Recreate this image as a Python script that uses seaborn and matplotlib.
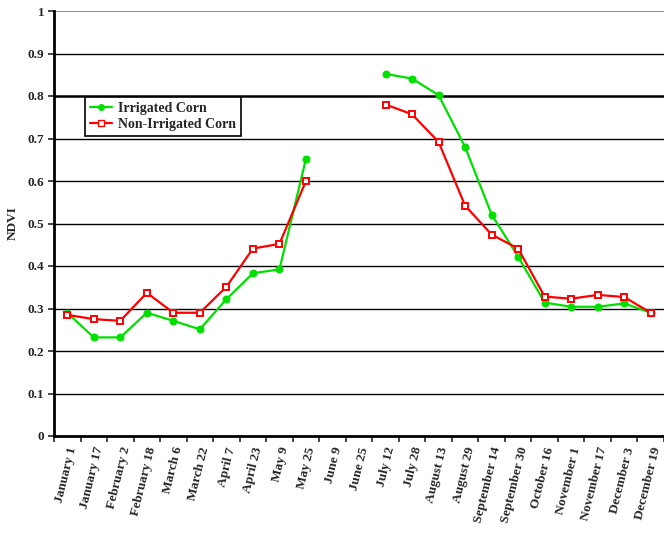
import matplotlib
matplotlib.use("Agg")
import matplotlib.pyplot as plt
from matplotlib.lines import Line2D
import numpy as np
import pandas as pd
import seaborn as sns

dates = [
    "January 1", "January 17", "February 2", "February 18", "March 6", "March 22",
    "April 7", "April 23", "May 9", "May 25", "June 9", "June 25", "July 12",
    "July 28", "August 13", "August 29", "September 14", "September 30",
    "October 16", "November 1", "November 17", "December 3", "December 19",
]
irrigated = [
    0.290, 0.232, 0.232, 0.290, 0.271, 0.251, 0.322, 0.383, 0.392, 0.652,
    np.nan, np.nan, 0.852, 0.841, 0.802, 0.680, 0.521, 0.422,
    0.314, 0.304, 0.304, 0.312, 0.290,
]
non_irrigated = [
    0.285, 0.275, 0.271, 0.337, 0.290, 0.290, 0.351, 0.441, 0.452, 0.600,
    np.nan, np.nan, 0.780, 0.757, 0.692, 0.542, 0.474, 0.441,
    0.328, 0.323, 0.332, 0.327, 0.290,
]
yticks = [0, 0.1, 0.2, 0.3, 0.4, 0.5, 0.6, 0.7, 0.8, 0.9, 1]
ytick_labels = ["0", "0.1", "0.2", "0.3", "0.4", "0.5", "0.6", "0.7", "0.8", "0.9", "1"]

sns.set_style("white")
plt.rcParams["font.family"] = ["Liberation Serif", "DejaVu Serif"]
plt.rcParams["font.weight"] = "bold"


def to_frame(values):
    df = pd.DataFrame({"pos": np.arange(len(dates)), "ndvi": values})
    # split into segments at missing dates so the line breaks there
    df["seg"] = df["ndvi"].isna().cumsum()
    return df.dropna()


fig = plt.figure(figsize=(6.64, 5.34), dpi=100)
ax = fig.add_axes([54 / 664, 1 - 436 / 534, 610 / 664, 425 / 534])

# horizontal gridlines
for v in yticks[1:-1]:
    ax.axhline(v, color="black", lw=1.8 if v == 0.8 else 1.0, zorder=1)
ax.axhline(1.0, color="#909090", lw=1.5, zorder=1)

sns.lineplot(
    data=to_frame(irrigated), x="pos", y="ndvi", units="seg", estimator=None,
    color="#00E000", lw=1.6, marker="o", markersize=5,
    markerfacecolor="#00E000", markeredgecolor="#00E000", ax=ax, zorder=3,
)
sns.lineplot(
    data=to_frame(non_irrigated), x="pos", y="ndvi", units="seg", estimator=None,
    color="#FF0000", lw=1.6, marker="s", markersize=4.5,
    markerfacecolor="white", markeredgecolor="#FF0000", markeredgewidth=1.4,
    ax=ax, zorder=4,
)

ax.set_xlim(-0.5, len(dates) - 0.5)
ax.set_ylim(0, 1)
ax.set_xticks(np.arange(-0.5, len(dates), 1.0))
ax.set_xticklabels([])
ax.set_xticks(np.arange(len(dates)), minor=True)
ax.set_xticklabels(dates, minor=True, rotation=76, ha="right",
                   rotation_mode="anchor", fontsize=9.5, fontweight="bold")
ax.tick_params(axis="x", which="major", length=4, width=1.2, direction="out", bottom=True)
ax.tick_params(axis="x", which="minor", length=0, pad=7)
ax.set_yticks(yticks)
ax.set_yticklabels(ytick_labels, fontsize=9.5, fontweight="bold")
ax.tick_params(axis="y", length=4, width=1.2, direction="out", left=True, pad=3)

ax.set_xlabel("")
ax.set_ylabel("NDVI", fontsize=9.5, fontweight="bold", labelpad=6)

for side in ["top", "right"]:
    ax.spines[side].set_visible(False)
for side in ["left", "bottom"]:
    ax.spines[side].set_color("black")
    ax.spines[side].set_linewidth(2.0)
ax.spines["left"].set_zorder(5)

handles = [
    Line2D([], [], color="#00E000", lw=1.6, marker="o", markersize=4,
           markerfacecolor="#00E000", markeredgecolor="#00E000"),
    Line2D([], [], color="#FF0000", lw=1.6, marker="s", markersize=4,
           markerfacecolor="white", markeredgecolor="#FF0000"),
]
leg = ax.legend(handles, ["Irrigated Corn", "Non-Irrigated Corn"],
                loc="upper left", bbox_to_anchor=(0.051, 0.798), borderaxespad=0,
                frameon=True, fancybox=False, framealpha=1, edgecolor="black",
                handlelength=1.6, handletextpad=0.4, borderpad=0.35,
                labelspacing=0.25, prop={"size": 10, "weight": "bold"})
leg.get_frame().set_linewidth(1.2)
leg.set_zorder(6)

fig.savefig("out.png", dpi=100)
